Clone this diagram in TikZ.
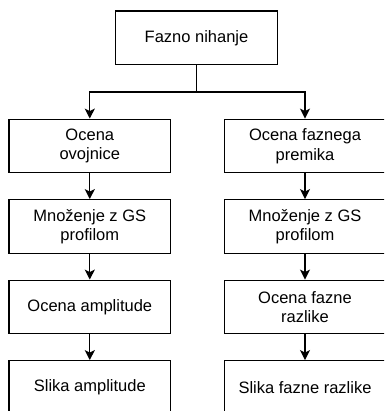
\documentclass[tikz,border=0pt]{standalone}
\usepackage{fontspec}
\setmainfont{Liberation Sans}
\usetikzlibrary{arrows.meta}

\begin{document}
\begin{tikzpicture}[x=1pt, y=-1pt,
	box/.style={draw, line width=1.3pt, minimum width=161.5pt, minimum height=53.5pt,
		inner sep=0pt, align=center, font=\fontsize{16.5}{19.5}\selectfont},
	arr/.style={line width=1.3pt, -{Stealth[width=10pt, length=10pt, inset=2.5pt]}}]
	\useasboundingbox (0, 0) rectangle (384, 411);
	\clip (0, 0) rectangle (384, 411);

	\node [box] (F) at (196.5, 37.8) {Fazno nihanje};

	% left branch
	\node [box] (A1) at (89.8, 146) {Ocena\\ovojnice};
	\node [box] (A2) at (89.8, 226.5) {Množenje z GS\\profilom};
	\node [box] (A3) at (89.8, 307) {Ocena amplitude};
	\node [box] (A4) at (89.8, 387.5) {Slika amplitude};

	% right branch
	\node [box] (B1) at (305, 146) {Ocena faznega\\premika};
	\node [box] (B2) at (305, 226.5) {Množenje z GS\\profilom};
	\node [box] (B3) at (305, 307) {Ocena fazne\\razlike};
	\node [box] (B4) at (305, 387.5) {Slika fazne razlike};

	\coordinate (S) at (196.5, 92);
	\draw [arr] (F.south) -- (S) -| (A1.north);
	\draw [arr] (S) -| (B1.north);

	\draw [arr] (A1) -- (A2);
	\draw [arr] (A2) -- (A3);
	\draw [arr] (A3) -- (A4);
	\draw [arr] (B1) -- (B2);
	\draw [arr] (B2) -- (B3);
	\draw [arr] (B3) -- (B4);
\end{tikzpicture}
\end{document}
